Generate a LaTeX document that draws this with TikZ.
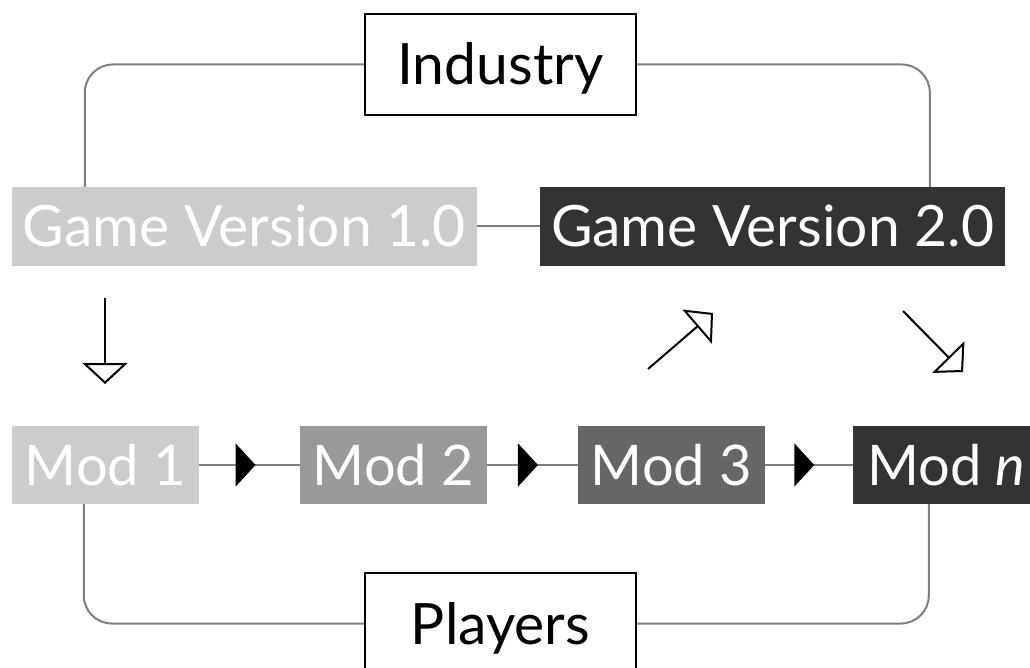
\documentclass[tikz,border=0pt]{standalone}
\usepackage{fontspec}
\setmainfont{Lato}
\usetikzlibrary{arrows.meta,calc,decorations.markings}

\definecolor{shadeA}{HTML}{CCCCCC}
\definecolor{shadeB}{HTML}{999999}
\definecolor{shadeC}{HTML}{666666}
\definecolor{shadeD}{HTML}{333333}
\definecolor{linkgray}{HTML}{7F7F7F}

\tikzset{
  x=1pt, y=-1pt,
  every node/.style={font=\fontsize{57}{64}\selectfont, inner sep=0pt,
    text height=41pt, text depth=0pt},
  actor/.style={draw=black, line width=2pt, fill=white, text=black,
    minimum width=271pt, minimum height=101pt},
  version/.style={minimum width=465pt, minimum height=79pt, text=white},
  modbox/.style={minimum width=187pt, minimum height=78pt, text=white,
    font=\fontsize{56}{63}\selectfont, text height=40pt},
  link/.style={draw=linkgray, line width=2pt},
  loop/.style={link, rounded corners=28pt},
  chain/.style={link, decoration={markings,
    mark=at position 0.56 with {\arrow{Triangle[width=43pt,length=20pt,color=black]}}},
    postaction={decorate}},
  flow/.style={draw=black, line width=2pt,
    -{Triangle[open,width=45pt,length=21pt]}},
}

\begin{document}
\begin{tikzpicture}
\useasboundingbox (0,0) rectangle (1030,668);
\clip (0,0) rectangle (1030,668);

% actors
\node[actor] (ind) at (500.5,64.5) {Industry};
\node[actor] (pla) at (500.5,623.5) {Players};

% game versions
\node[version, fill=shadeA] (gv1) at (244.5,226.5) {Game Version 1.0};
\node[version, fill=shadeD] (gv2) at (772.5,226.5) {Game Version 2.0};

% mods
\node[modbox, fill=shadeA] (m1) at (105.5,465) {Mod 1};
\node[modbox, fill=shadeB] (m2) at (393.5,465) {Mod 2};
\node[modbox, fill=shadeC] (m3) at (671.5,465) {Mod 3};
\node[modbox, fill=shadeD] (mn) at (946.5,465) {Mod \textit{n}};

% industry loop
\draw[loop] (ind.west) -| ($(gv1.north west)+(73,0)$);
\draw[loop] (ind.east) -| ($(gv2.north west)+(390,0)$);
\draw[link] (gv1.east) -- (gv2.west);

% player loop
\draw[loop] ($(m1.south west)+(72,0)$) |- (pla.west);
\draw[loop] ($(mn.south west)+(76,0)$) |- (pla.east);

% mod chain
\draw[chain] (m1.east) -- (m2.west);
\draw[chain] (m2.east) -- (m3.west);
\draw[chain] (m3.east) -- (mn.west);

% transitions
\coordinate (a1) at (105,298);
\coordinate (a2) at (105,384);
\coordinate (b1) at (648,369);
\coordinate (b2) at (713,313);
\coordinate (c1) at (903,311);
\coordinate (c2) at (963,372);
\draw[flow] (a1) -- (a2);
\draw[flow] (b1) -- (b2);
\draw[flow] (c1) -- (c2);
\end{tikzpicture}
\end{document}
